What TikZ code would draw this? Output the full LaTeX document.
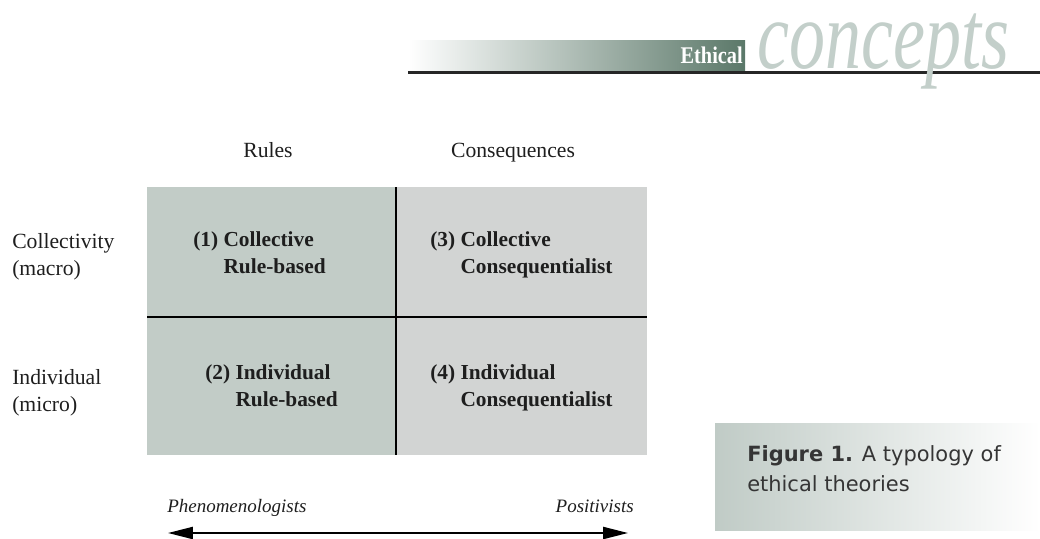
\documentclass[tikz,border=0pt]{standalone}
\usepackage{fontspec}
\setmainfont{Liberation Serif}
\newfontfamily\capfont{DejaVu Sans}
\usepackage{xcolor}
\usepackage{tikz}
\usetikzlibrary{arrows.meta,positioning}
\definecolor{ruleside}{HTML}{C2CCC7}
\definecolor{consside}{HTML}{D2D4D3}
\definecolor{band}{HTML}{5B7869}
\definecolor{concept}{HTML}{C3CFCA}
\definecolor{capshade}{HTML}{C0CBC6}
\definecolor{ink}{HTML}{1E1E1E}
\tikzset{
  GridLine/.style={draw=black, line width=2.1pt},
  HeadLabel/.style={anchor=base, inner sep=0pt, text=ink,
    font=\fontsize{15.4}{19}\selectfont},
  RowLabel/.style={anchor=west, inner sep=0pt, align=left, text=ink,
    font=\fontsize{15.4}{19.6}\selectfont},
  CellText/.style={anchor=west, inner sep=0pt, align=left, text=ink,
    font=\fontsize{15.2}{19.2}\selectfont\bfseries},
  PoleLabel/.style={inner sep=0pt, text=ink,
    font=\fontsize{13.5}{16}\selectfont\itshape},
  BiArrow/.style={line width=1.4pt,
    {Triangle[length=0.62cm,width=0.3cm]}-{Triangle[length=0.62cm,width=0.3cm]}}
}
\newcommand{\Hang}[1]{\phantom{(#1) }}

\begin{document}
\begin{tikzpicture}[x=0.025cm, y=-0.025cm, line cap=butt, line join=miter]
  \useasboundingbox (0,0) rectangle (1040,539);

  % header strip
  \shade[left color=white, right color=band] (408,40) rectangle (745,71);
  \coordinate (RuleL) at (408,72.5);
  \coordinate (RuleR) at (1040,72.5);
  \draw[line width=2.1pt, black!85] (RuleL) -- (RuleR);
  \node (Ethical) [anchor=base east, inner sep=0pt, text=white,
    font=\fontsize{17}{17}\selectfont\bfseries] at (743,63)
    {\scalebox{0.85}[1]{Ethical}};
  \node (Concepts) [anchor=base west, inner sep=0pt, text=concept,
    font=\fontsize{64}{70}\selectfont\itshape] at (757,68)
    {\scalebox{0.8}[1.08]{concepts}};

  % quadrants
  \coordinate (TL) at (147,187);
  \coordinate (BR) at (647,455);
  \coordinate (VT) at (396,187);
  \coordinate (VB) at (396,455);
  \coordinate (HL) at (147,317);
  \coordinate (HR) at (647,317);
  \fill[ruleside] (TL) rectangle (VB);
  \fill[consside] (VT) rectangle (BR);
  \draw[GridLine] (VT) -- (VB);
  \draw[GridLine] (HL) -- (HR);

  \node (Rules) [HeadLabel] at (268,157) {Rules};
  \node (Cons) [HeadLabel] at (513,157) {Consequences};

  \node (Macro) [RowLabel] at (12,257) {Collectivity\\(macro)};
  \node (Micro) [RowLabel] at (12,393) {Individual\\(micro)};

  \node (Q1) [CellText] at (193,255) {(1) Collective\\\Hang{1}Rule-based};
  \node (Q3) [CellText] at (430,255) {(3) Collective\\\Hang{3}Consequentialist};
  \node (Q2) [CellText] at (205,388) {(2) Individual\\\Hang{2}Rule-based};
  \node (Q4) [CellText] at (430,388) {(4) Individual\\\Hang{4}Consequentialist};

  % scale underneath
  \node (Phen) [PoleLabel, anchor=base west] at (167,512) {Phenomenologists};
  \node (Pos) [PoleLabel, anchor=base east] at (634,512) {Positivists};
  \coordinate (PhenTip) at (168,533);
  \coordinate (PosTip) at (628,533);
  \draw[BiArrow] (PhenTip) -- (PosTip);

  % caption box
  \shade[left color=capshade, right color=white] (715,423) rectangle (1040,530);
  \node (Caption) [anchor=west, inner sep=0pt, align=left, text=ink!90,
    font=\capfont\fontsize{14.9}{21.3}\selectfont] at (747,469)
    {{\bfseries Figure 1.} A typology of\\ethical theories};
\end{tikzpicture}
\end{document}
